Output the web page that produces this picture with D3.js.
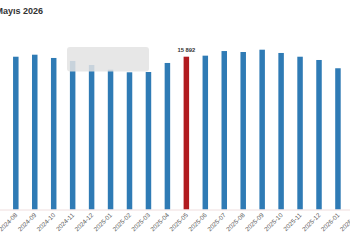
<!DOCTYPE html>
<html>
<head>
<meta charset="utf-8">
<script src="https://cdn.jsdelivr.net/npm/d3@7"></script>
<style>
  html, body { margin: 0; padding: 0; background: #fff; }
  svg { display: block; font-family: "Liberation Sans", Arial, sans-serif; }
  .title { font-weight: bold; font-size: 9px; fill: #333; }
  .tick-label { font-size: 6.3px; fill: #555; }
  .value-label { font-size: 5.8px; font-weight: bold; fill: #333; }
</style>
</head>
<body>
<svg id="chart" width="350" height="250"></svg>
<script>
"use strict";

// ===== Data =====
const months = [
  "2024-08", "2024-09", "2024-10", "2024-11", "2024-12",
  "2025-01", "2025-02", "2025-03", "2025-04", "2025-05",
  "2025-06", "2025-07", "2025-08", "2025-09", "2025-10",
  "2025-11", "2025-12", "2026-01", "2026-02"
];
const values = [
  15890, 16100, 15760, 15450, 15030,
  14540, 14270, 14300, 15240, 15892,
  16000, 16480, 16380, 16620, 16280,
  15890, 15550, 14690, 14500
];
const highlight = "2025-05";
const highlightLabel = "15 892";
const title = "Mayıs 2026";

// ===== Setup =====
const width = 350, height = 250;
const baseY = 209.5;
const step = 18.95;
const x0 = 6.33;

const svg = d3.select("#chart");

const x = d3.scaleBand()
  .domain(months)
  .range([x0, x0 + months.length * step])
  .paddingInner(0.71)
  .paddingOuter(0.355);

const y = d3.scaleLinear()
  .domain([0, 17000])
  .range([baseY, baseY - 17000 * 0.009615]);

// Title (cut at left edge like the source)
svg.append("text")
  .attr("class", "title")
  .attr("x", 43)
  .attr("y", 14)
  .attr("text-anchor", "end")
  .text(title);

// Bars
svg.append("g")
  .selectAll("rect")
  .data(months.map((m, i) => ({ m, v: values[i] })))
  .join("rect")
  .attr("x", d => x(d.m))
  .attr("y", d => y(d.v))
  .attr("width", x.bandwidth())
  .attr("height", d => baseY - y(d.v))
  .attr("fill", d => d.m === highlight ? "#b11b1f" : "#2f7bb5");

// Baseline
svg.append("line")
  .attr("x1", 0).attr("x2", width)
  .attr("y1", baseY + 0.5).attr("y2", baseY + 0.5)
  .attr("stroke", "#efdede")
  .attr("stroke-width", 1);

// Value label on highlighted bar
svg.append("text")
  .attr("class", "value-label")
  .attr("x", x(highlight) + x.bandwidth() / 2)
  .attr("y", y(values[months.indexOf(highlight)]) - 5)
  .attr("text-anchor", "middle")
  .text(highlightLabel);

// X tick labels, rotated
svg.append("g")
  .selectAll("text")
  .data(months)
  .join("text")
  .attr("class", "tick-label")
  .attr("text-anchor", "end")
  .attr("transform", d => `translate(${x(d) + x.bandwidth() / 2 + 2},${baseY + 6}) rotate(-45)`)
  .text(d => d);

// Faded tooltip box
svg.append("rect")
  .attr("x", 67).attr("y", 47)
  .attr("width", 82).attr("height", 24.5)
  .attr("rx", 3)
  .attr("fill", "#e3e3e3")
  .attr("opacity", 0.85);
</script>
</body>
</html>
